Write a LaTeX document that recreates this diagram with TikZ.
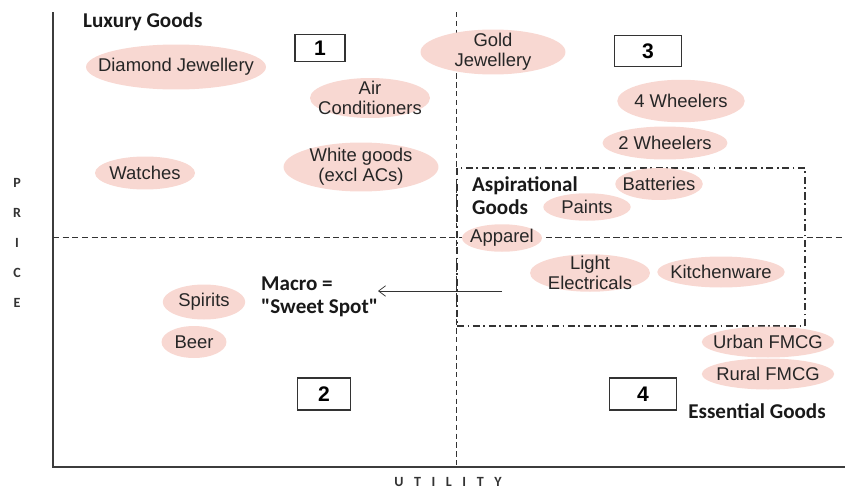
\documentclass[tikz,border=0pt]{standalone}
\usepackage{fontspec}
\setmainfont{Liberation Sans}
\newfontfamily\calib{Carlito}
\usepackage{tikz}
\usetikzlibrary{shapes.geometric,arrows.meta,positioning}
\definecolor{goodpink}{RGB}{248,216,210}
\definecolor{axisgray}{RGB}{60,60,60}
\tikzset{
	good/.style={ellipse, fill=goodpink, inner sep=-30pt, align=center, font=\fontsize{10.5}{11.5}\selectfont, text=black!85},
	quad/.style={draw=black!80, line width=0.6pt, inner sep=0pt, font=\bfseries\fontsize{12}{12}\selectfont},
	head/.style={font=\calib\bfseries\fontsize{12}{13}\selectfont, text=black!90},
	axisletter/.style={font=\calib\bfseries\fontsize{8}{8}\selectfont, text=black!80}
}
\begin{document}
\begin{tikzpicture}[x=0.02cm,y=-0.02cm]
	\useasboundingbox (0,0) rectangle (845,490);
	\coordinate (origin) at (53,467);
	\coordinate (ytop) at (53,12);
	\coordinate (xend) at (845,467);
	\draw[axisgray, line width=1pt] (ytop) -- (origin) -- (xend);
	\coordinate (vtop) at (456,12); \coordinate (vbot) at (456,467);
	\coordinate (hleft) at (53,237); \coordinate (hright) at (845,237);
	\draw[black!80, dash pattern=on 3pt off 2pt] (vtop) -- (vbot);
	\draw[black!80, line width=0.5pt, dash pattern=on 3.5pt off 2pt] (hleft) -- (hright);
	\draw[black!80, line width=0.7pt, dash pattern=on 4pt off 2pt on 1pt off 2pt] (457,168) rectangle (805,326);

	\node[good, minimum width=3.6cm, minimum height=0.9cm] (diamond) at (176,67) {Diamond Jewellery};
	\node[good, minimum width=2.4cm, minimum height=0.8cm] (aircon) at (370,98) {Air\\Conditioners};
	\node[good, minimum width=2.9cm, minimum height=0.9cm] (gold) at (493,52) {Gold\\Jewellery};
	\node[good, minimum width=2.55cm, minimum height=0.85cm] (fourwh) at (681,101) {4 Wheelers};
	\node[good, minimum width=2.5cm, minimum height=0.66cm] (twowh) at (665,143) {2 Wheelers};
	\node[good, minimum width=2.0cm, minimum height=0.66cm] (watches) at (145,173) {Watches};
	\node[good, minimum width=3.1cm, minimum height=0.98cm] (white) at (361,167) {White goods\\(excl ACs)};
	\node[good, minimum width=1.75cm, minimum height=0.64cm] (batteries) at (659,184) {Batteries};
	\node[good, minimum width=1.75cm, minimum height=0.55cm] (paints) at (587,207) {Paints};
	\node[good, minimum width=1.6cm, minimum height=0.55cm] (apparel) at (502,238) {Apparel};
	\node[good, minimum width=2.4cm, minimum height=0.75cm] (lightel) at (590,273) {Light\\Electricals};
	\node[good, minimum width=2.55cm, minimum height=0.62cm] (kitchen) at (721,272) {Kitchenware};
	\node[good, minimum width=1.65cm, minimum height=0.7cm] (spirits) at (204,302) {Spirits};
	\node[good, minimum width=1.3cm, minimum height=0.64cm] (beer) at (194,342) {Beer};
	\node[good, minimum width=2.65cm, minimum height=0.62cm] (urban) at (768,342) {Urban FMCG};
	\node[good, minimum width=2.65cm, minimum height=0.62cm] (rural) at (768,374) {Rural FMCG};

	\node[quad, minimum width=1.0cm, minimum height=0.55cm] (q1) at (320,48) {1};
	\node[quad, minimum width=1.05cm, minimum height=0.64cm] (q2) at (324,394) {2};
	\node[quad, minimum width=1.35cm, minimum height=0.62cm] (q3) at (648,51) {3};
	\node[quad, minimum width=1.35cm, minimum height=0.64cm] (q4) at (643,394) {4};

	\node[head, anchor=west] (luxury) at (77,22) {Luxury Goods};
	\node[head, anchor=west, align=left] (aspir) at (466,196) {Aspirational\\Goods};
	\node[head, anchor=west, align=left] (macro) at (255,297) {Macro =\\"Sweet Spot"};
	\node[head] (essential) at (757,411) {Essential Goods};

	\coordinate (arrowtail) at (502,291);
	\coordinate (arrowtip) at (378,291);
	\draw[black!80, -{Straight Barb[length=4pt,width=6pt]}] (arrowtail) -- (arrowtip);

	\node[axisletter, align=center, font=\calib\bfseries\fontsize{8}{17}\selectfont] (price) at (17,243) {P\\R\\I\\C\\E};
	\node[axisletter] (utility) at (448,482) {U\hspace{6pt}T\hspace{6pt}I\hspace{6pt}L\hspace{6pt}I\hspace{6pt}T\hspace{6pt}Y};
\end{tikzpicture}
\end{document}
